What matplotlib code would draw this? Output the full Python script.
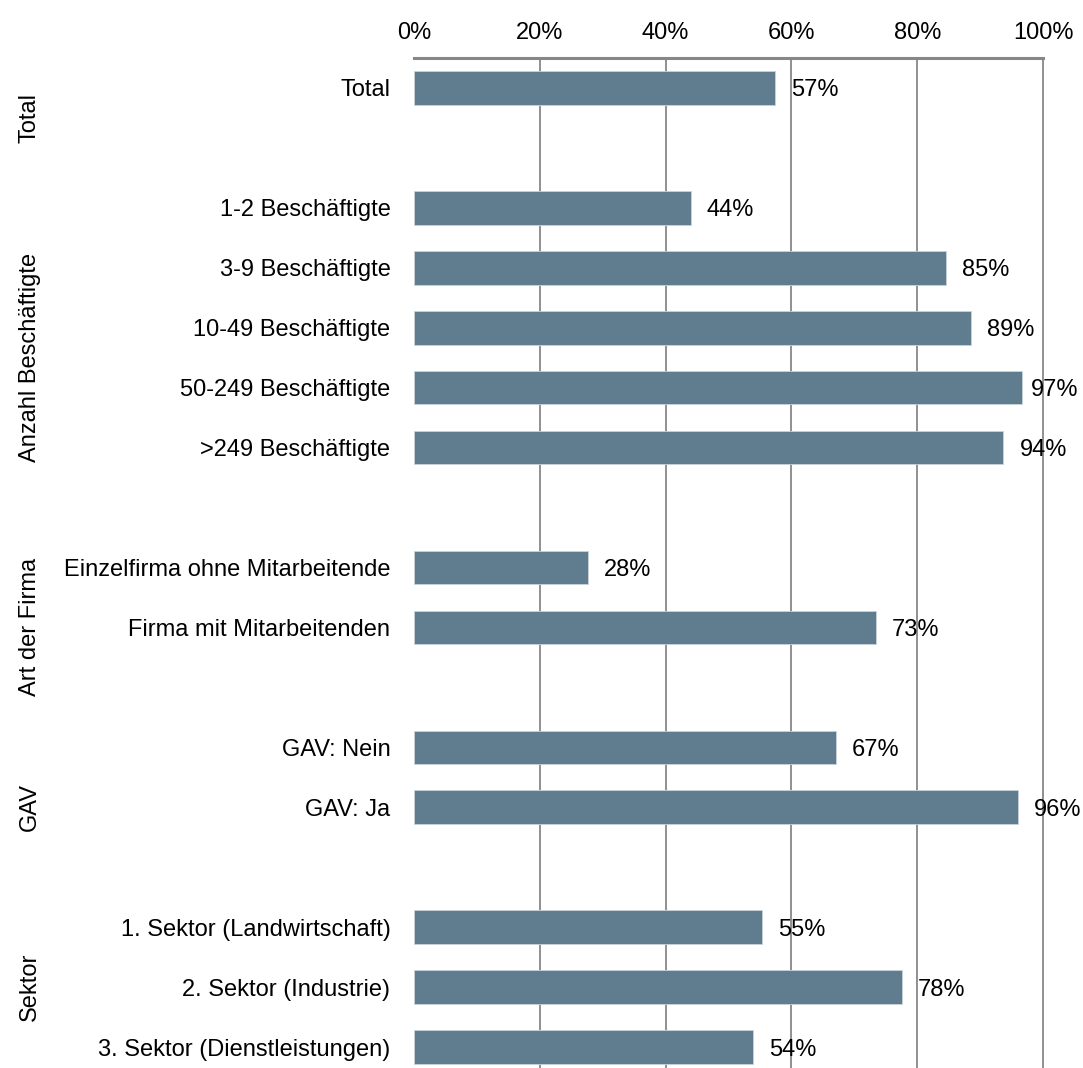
import matplotlib.pyplot as plt
import matplotlib.transforms as mtransforms
import numpy as np

plt.rcParams['font.family'] = ['Liberation Sans', 'DejaVu Sans']

# Daten
groups = ['Total', 'Anzahl Beschäftigte', 'Art der Firma', 'GAV', 'Sektor']
labels = ['Total',
          '1-2 Beschäftigte', '3-9 Beschäftigte', '10-49 Beschäftigte',
          '50-249 Beschäftigte', '>249 Beschäftigte',
          'Einzelfirma ohne Mitarbeitende', 'Firma mit Mitarbeitenden',
          'GAV: Nein', 'GAV: Ja',
          '1. Sektor (Landwirtschaft)', '2. Sektor (Industrie)',
          '3. Sektor (Dienstleistungen)']
group_of = [0, 1, 1, 1, 1, 1, 2, 2, 3, 3, 4, 4, 4]
values = [57.4, 44.0, 84.6, 88.6, 96.6, 93.7, 27.7, 73.4, 67.1, 96.0, 55.3, 77.6, 53.9]

# Positionen: nach jeder Gruppe eine Leerzeile
pos = []
group_slots = {g: [] for g in range(len(groups))}
y = 0
for i, g in enumerate(group_of):
    if i > 0 and g != group_of[i - 1]:
        group_slots[group_of[i - 1]].append(y)  # Leerzeile gehört zur Gruppe
        y += 1
    pos.append(y)
    group_slots[g].append(y)
    y += 1
n_slots = y

fs = 17

fig = plt.figure(figsize=(10.83, 10.68), dpi=100)
ax = fig.add_axes([0.3823, -0.0084, 0.5808, 0.9541])

bar_color = '#5f7d8e'
ax.barh(pos, values, height=0.56, color=bar_color, edgecolor='#c9d3da', linewidth=0.6, zorder=3)

ax.set_xlim(0, 100)
ax.set_ylim(n_slots - 0.5, -0.5)

ax.xaxis.tick_top()
ax.set_xticks(np.arange(0, 101, 20))
ax.set_xticklabels([f'{t}%' for t in range(0, 101, 20)])
ax.tick_params(axis='x', length=0, pad=10, labelsize=fs)
ax.set_yticks(pos)
ax.set_yticklabels(labels)
ax.tick_params(axis='y', length=0, pad=17, labelsize=fs)

for t in range(20, 101, 20):
    ax.axvline(t, color='#878787', linewidth=1.3, zorder=1, clip_on=False)

for s in ['left', 'right', 'bottom']:
    ax.spines[s].set_visible(False)
ax.spines['top'].set_color('#878787')
ax.spines['top'].set_linewidth(2.2)

# Werte
for p, v in zip(pos, values):
    off = 7 if v > 96.3 else 11.5
    ax.annotate(f'{round(v)}%', (v, p), xytext=(off, 0), textcoords='offset points',
                ha='left', va='center_baseline', fontsize=fs, zorder=4)

# Gruppentitel
trans = mtransforms.blended_transform_factory(fig.transFigure, ax.transData)
for g, name in enumerate(groups):
    c = np.mean(group_slots[g])
    ax.text(30 / 1083, c, name, transform=trans, rotation=90, ha='center', va='center',
            fontsize=fs)

plt.savefig('out.png', dpi=100)
